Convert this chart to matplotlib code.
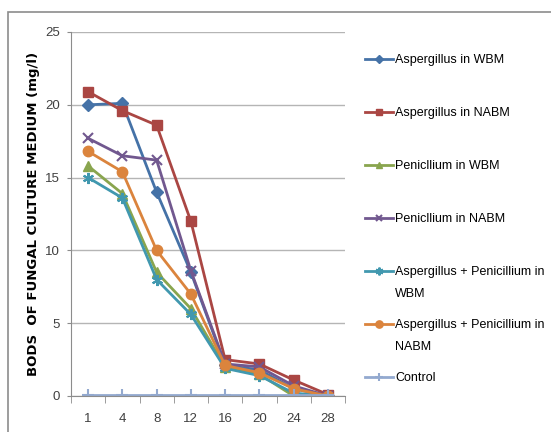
import matplotlib
matplotlib.use("Agg")
import matplotlib.pyplot as plt
from matplotlib.patches import Rectangle
import numpy as np

days = ["1", "4", "8", "12", "16", "20", "24", "28"]
asp_wbm = [20.0, 20.1, 14.0, 8.5, 2.1, 1.8, 0.5, 0.0]
asp_nabm = [20.9, 19.6, 18.6, 12.0, 2.5, 2.2, 1.1, 0.1]
pen_wbm = [15.8, 13.9, 8.5, 6.0, 2.0, 1.5, 0.0, 0.0]
pen_nabm = [17.7, 16.5, 16.2, 8.6, 2.2, 2.0, 0.7, 0.0]
mix_wbm = [15.0, 13.6, 8.0, 5.6, 1.9, 1.4, 0.2, 0.0]
mix_nabm = [16.8, 15.4, 10.0, 7.0, 2.1, 1.6, 0.5, 0.0]
control = [0.1, 0.1, 0.1, 0.1, 0.1, 0.1, 0.1, 0.1]

labels = ["Aspergillus in WBM", "Aspergillus in NABM", "Penicllium in WBM",
          "Penicllium in NABM", "Aspergillus + Penicillium in WBM",
          "Aspergillus + Penicillium in NABM", "Control"]
# legend wraps the two long labels: first line in the legend entry, second line below it
legend_first = ["Aspergillus in WBM", "Aspergillus in NABM", "Penicllium in WBM",
                "Penicllium in NABM", "Aspergillus + Penicillium in",
                "Aspergillus + Penicillium in", "Control"]
legend_second = {4: "WBM", 5: "NABM"}

series = [asp_wbm, asp_nabm, pen_wbm, pen_nabm, mix_wbm, mix_nabm, control]
colors = ["#4572A7", "#AA4643", "#89A54E", "#71588F", "#4198AF", "#DB843D", "#93A9CF"]
markers = ["D", "s", "^", "x", (6, 2, 0), "o", "+"]
msizes = [6, 7, 7, 7, 8, 7.5, 9]

plt.rcParams['font.family'] = ['Liberation Sans', 'DejaVu Sans']

W, H = 551, 432
fig = plt.figure(figsize=(W / 100, H / 100), dpi=100)
fig.patches.append(Rectangle((8 / W, -0.1), 1.2, (H - 12) / H + 0.1, transform=fig.transFigure,
                             fill=False, edgecolor="#8c8c8c", linewidth=1.2))
ax = fig.add_axes([71 / W, 36 / H, 274 / W, 364 / H])

x = np.arange(len(days))
handles = []
for vals, lab, c, m, ms in zip(series, labels, colors, markers, msizes):
    ew = 1.5 if m in ("x", "+") or isinstance(m, tuple) else 1
    h, = ax.plot(x, vals, color=c, marker=m, markersize=ms, linewidth=2,
                 markeredgewidth=ew, label=lab)
    handles.append(h)

ax.set_xlim(-0.5, len(days) - 0.5)
ax.set_ylim(0, 25)
ax.set_yticks([0, 5, 10, 15, 20, 25])
ax.set_xticks(x)
ax.set_xticklabels(days)
ax.set_xticks(np.arange(-0.5, len(days), 1), minor=True)
ax.tick_params(axis="x", which="major", length=0, labelsize=9.5, colors="#404040", pad=12)
ax.tick_params(axis="x", which="minor", length=5, color="#8c8c8c")
ax.tick_params(axis="y", length=3, color="#8c8c8c", labelsize=9.5, labelcolor="#404040", pad=5)
ax.grid(axis="y", color="#b5b5b5", linewidth=1)
ax.set_axisbelow(True)
for s in ["top", "right"]:
    ax.spines[s].set_visible(False)
for s in ["left", "bottom"]:
    ax.spines[s].set_color("#8c8c8c")
ax.set_ylabel("BODS  OF FUNGAL CULTURE MEDIUM (mg/l)", fontsize=9.5, fontweight="bold",
              family=["DejaVu Sans"], labelpad=3.5)

leg = fig.legend(handles=handles, labels=legend_first, loc="upper left",
                 bbox_to_anchor=(365 / W, 1 - 54 / H), frameon=False, fontsize=9,
                 handlelength=2.2, handletextpad=0.2, labelspacing=3.28,
                 borderpad=0, borderaxespad=0, markerscale=0.7)

fig.canvas.draw()
inv = fig.transFigure.inverted()
for i, txt in legend_second.items():
    bb = leg.get_texts()[i].get_window_extent()
    x0, y0 = inv.transform((bb.x0, bb.y0 - 22))
    fig.text(x0, y0, txt, fontsize=9, ha="left", va="bottom", color="black")

fig.savefig("out.png", dpi=100)
